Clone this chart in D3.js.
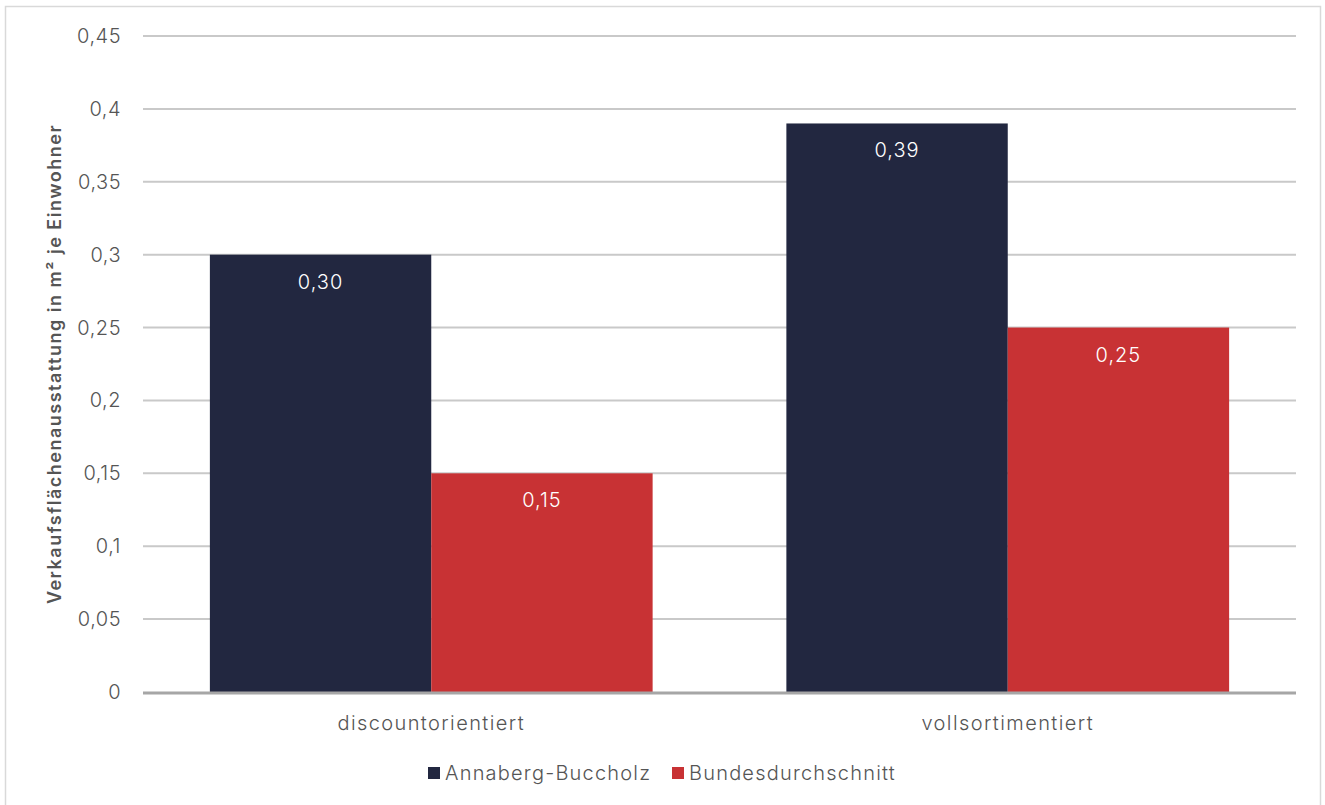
<!DOCTYPE html>
<html>
<head>
<meta charset="utf-8">
<script src="https://cdn.jsdelivr.net/npm/d3@7"></script>
<style>
  body { margin: 0; background: #fff; }
  text { font-family: Inter, "Open Sans", sans-serif; }
</style>
</head>
<body>
<svg id="chart" width="1325" height="805"></svg>
<script>
// data
const categories = ["discountorientiert", "vollsortimentiert"];
const seriesNames = ["Annaberg-Buccholz", "Bundesdurchschnitt"];
const annabergValues = [0.30, 0.39];
const bundValues = [0.15, 0.25];
const yTicks = [0, 0.05, 0.1, 0.15, 0.2, 0.25, 0.3, 0.35, 0.4, 0.45];
const colors = ["#222740", "#c83234"];

const svg = d3.select("#chart");
const width = 1325, height = 805;

const margin = {left: 143, right: 29, top: 36, bottom: 113};

// frame
svg.append("rect")
  .attr("x", 5.5).attr("y", 6.5)
  .attr("width", 1315).attr("height", 805)
  .attr("fill", "none")
  .attr("stroke", "#d9d9d9")
  .attr("stroke-width", 1.5);

let y = d3.scaleLinear()
  .domain([0, 0.45])
  .range([height - margin.bottom, margin.top]);

let x0 = d3.scaleBand()
  .domain(categories)
  .range([margin.left, width - margin.right])
  .padding(0);

let groupW = x0.bandwidth() * 0.768;
let x1 = d3.scaleBand()
  .domain(seriesNames)
  .range([0, groupW]);

let fmt = d => d3.format(".2f")(d).replace(".", ",");
let tickFmt = d => d === 0 ? "0" : String(+d.toFixed(2)).replace(".", ",");

// gridlines
svg.append("g")
  .selectAll("line")
  .data(yTicks.filter(d => d > 0))
  .join("line")
  .attr("x1", margin.left).attr("x2", width - margin.right)
  .attr("y1", d => y(d)).attr("y2", d => y(d))
  .attr("stroke", "#c9c9c9")
  .attr("stroke-width", 2);

// tick labels
svg.append("g")
  .selectAll("text")
  .data(yTicks)
  .join("text")
  .attr("x", 121)
  .attr("y", d => y(d))
  .attr("dy", "0.35em")
  .attr("text-anchor", "end")
  .attr("fill", "#555555")
  .style("font-size", "20px")
  .style("font-weight", 300)
  .style("letter-spacing", "0.5px")
  .text(tickFmt);

// bars
let rows = categories.map((c, i) => ({
  category: c,
  values: [
    {name: seriesNames[0], value: annabergValues[i]},
    {name: seriesNames[1], value: bundValues[i]}
  ]
}));

let groups = svg.append("g")
  .selectAll("g")
  .data(rows)
  .join("g")
  .attr("transform", d => `translate(${x0(d.category) + (x0.bandwidth() - groupW) / 2},0)`);

groups.selectAll("rect")
  .data(d => d.values)
  .join("rect")
  .attr("x", d => x1(d.name))
  .attr("y", d => y(d.value))
  .attr("width", x1.bandwidth())
  .attr("height", d => y(0) - y(d.value))
  .attr("fill", (d, i) => colors[i]);

groups.selectAll("text")
  .data(d => d.values)
  .join("text")
  .attr("x", d => x1(d.name) + x1.bandwidth() / 2)
  .attr("y", d => y(d.value) + 27)
  .attr("dy", "0.35em")
  .attr("text-anchor", "middle")
  .attr("fill", "#ffffff")
  .style("font-size", "20px")
  .style("font-weight", 300)
  .style("letter-spacing", "1px")
  .text(d => fmt(d.value));

// zero line
svg.append("line")
  .attr("x1", margin.left).attr("x2", width - margin.right)
  .attr("y1", y(0) + 1).attr("y2", y(0) + 1)
  .attr("stroke", "#a6a6a6")
  .attr("stroke-width", 3);

// category labels
svg.append("g")
  .selectAll("text")
  .data(categories)
  .join("text")
  .attr("x", d => x0(d) + x0.bandwidth() / 2)
  .attr("y", 723)
  .attr("dy", "0.35em")
  .attr("text-anchor", "middle")
  .attr("fill", "#555555")
  .style("font-size", "20px")
  .style("font-weight", 300)
  .style("letter-spacing", "1.4px")
  .text(d => d);

// y title
svg.append("text")
  .attr("transform", `translate(55,${(y(0) + y(0.45)) / 2}) rotate(-90)`)
  .attr("dy", "0.35em")
  .attr("text-anchor", "middle")
  .attr("fill", "#555555")
  .style("font-size", "18px")
  .style("font-weight", 600)
  .style("letter-spacing", "1.5px")
  .text("Verkaufsflächenausstattung in m² je Einwohner");

// legend
let legendX = [428, 672];
let legend = svg.append("g")
  .selectAll("g")
  .data(seriesNames)
  .join("g")
  .attr("transform", (d, i) => `translate(${legendX[i]},773)`);

legend.append("rect")
  .attr("x", 0).attr("y", -6)
  .attr("width", 12).attr("height", 12)
  .attr("fill", (d, i) => colors[i]);

legend.append("text")
  .attr("x", 17)
  .attr("dy", "0.35em")
  .attr("fill", "#555555")
  .style("font-size", "20px")
  .style("font-weight", 300)
  .style("letter-spacing", "1.2px")
  .text(d => d);
</script>
</body>
</html>
